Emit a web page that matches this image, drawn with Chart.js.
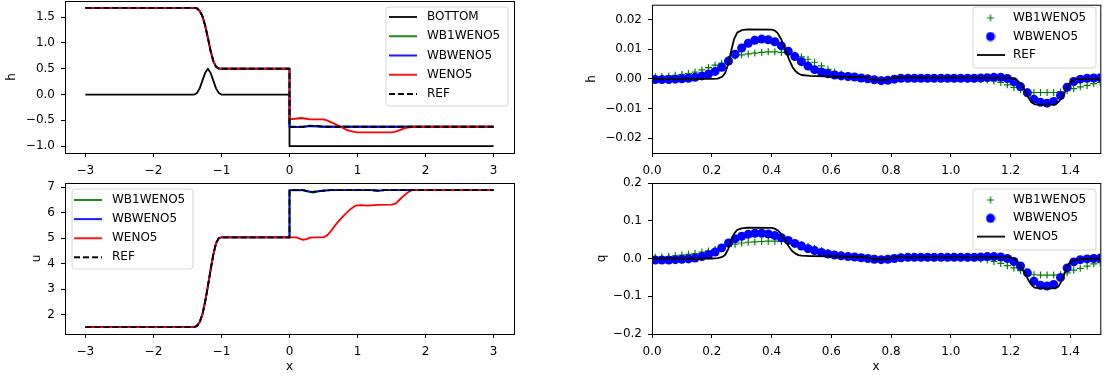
<!DOCTYPE html>
<html><head><meta charset="utf-8">
<script src="https://cdn.jsdelivr.net/npm/chart.js@4.4.0/dist/chart.umd.min.js"></script>
<style>
html,body{margin:0;padding:0;background:#fff;}
body{width:1105px;height:378px;position:relative;overflow:hidden;}
canvas{position:absolute;}
</style></head><body>
<canvas id="c1" width="545" height="182" style="left:0px;top:0px"></canvas>
<canvas id="c2" width="545" height="182" style="left:560px;top:0px"></canvas>
<canvas id="c3" width="545" height="208" style="left:0px;top:170px"></canvas>
<canvas id="c4" width="545" height="208" style="left:560px;top:170px"></canvas>
<script>
// ---------- DATA: left column (x in [-3,3]) ----------
const bottomX = [-3, -1.4, -1.36, -1.32, -1.28, -1.24, -1.2, -1.16, -1.12, -1.08, -1.04, -1.0, 0, 0, 3];
const bottomY = [0, 0, 0.03, 0.12, 0.27, 0.42, 0.5, 0.42, 0.27, 0.12, 0.03, 0, 0, -1, -1];

const hX    = [-3, -1.4, -1.36, -1.32, -1.28, -1.24, -1.2, -1.16, -1.12, -1.08, -1.04, -1.0, 0, 0, 0.2, 0.3, 0.4, 0.5, 3];
const refH  = [1.68, 1.68, 1.67, 1.62, 1.52, 1.34, 1.1, 0.85, 0.65, 0.54, 0.505, 0.5, 0.5, -0.625, -0.625, -0.605, -0.61, -0.625, -0.625];
const wb1H  = [1.68, 1.68, 1.67, 1.62, 1.52, 1.34, 1.1, 0.85, 0.65, 0.54, 0.505, 0.5, 0.5, -0.63, -0.63, -0.61, -0.615, -0.625, -0.625];
const wbH   = [1.68, 1.68, 1.67, 1.62, 1.52, 1.34, 1.1, 0.85, 0.65, 0.54, 0.505, 0.5, 0.5, -0.63, -0.625, -0.612, -0.615, -0.625, -0.625];
const wenoHX = [-3, -1.4, -1.36, -1.32, -1.28, -1.24, -1.2, -1.16, -1.12, -1.08, -1.04, -1.0, 0, 0, 0.08, 0.17, 0.25, 0.3, 0.5, 0.55, 0.6, 0.7, 0.75, 0.85, 0.95, 1.0, 1.5, 1.55, 1.6, 1.7, 1.8, 3];
const wenoH  = [1.68, 1.68, 1.67, 1.62, 1.52, 1.34, 1.1, 0.85, 0.65, 0.54, 0.505, 0.5, 0.5, -0.48, -0.47, -0.455, -0.47, -0.48, -0.48, -0.50, -0.53, -0.59, -0.625, -0.69, -0.725, -0.733, -0.733, -0.725, -0.70, -0.65, -0.625, -0.625];

const uX    = [-3, -1.4, -1.36, -1.32, -1.28, -1.24, -1.2, -1.16, -1.12, -1.08, -1.04, -1.0, 0, 0, 0.2, 0.3, 0.35, 0.45, 0.6, 1.2, 1.3, 1.4, 3];
const refU  = [1.5, 1.5, 1.55, 1.7, 2.0, 2.5, 3.1, 3.75, 4.35, 4.8, 5.0, 5.03, 5.03, 6.89, 6.89, 6.83, 6.82, 6.86, 6.89, 6.89, 6.87, 6.89, 6.89];
const wb1U  = [1.5, 1.5, 1.55, 1.7, 2.0, 2.5, 3.1, 3.75, 4.35, 4.8, 5.0, 5.03, 5.03, 6.89, 6.88, 6.81, 6.79, 6.85, 6.89, 6.89, 6.86, 6.89, 6.89];
const wbU   = [1.5, 1.5, 1.55, 1.7, 2.0, 2.5, 3.1, 3.75, 4.35, 4.8, 5.0, 5.03, 5.03, 6.89, 6.89, 6.83, 6.82, 6.86, 6.89, 6.89, 6.87, 6.89, 6.89];
const wenoUX = [-3, -1.4, -1.36, -1.32, -1.28, -1.24, -1.2, -1.16, -1.12, -1.08, -1.04, -1.0, 0, 0.1, 0.15, 0.2, 0.25, 0.3, 0.5, 0.55, 0.6, 0.7, 0.8, 0.9, 0.97, 1.05, 1.15, 1.3, 1.5, 1.56, 1.65, 1.75, 1.8, 3];
const wenoU  = [1.5, 1.5, 1.55, 1.7, 2.0, 2.5, 3.1, 3.75, 4.35, 4.8, 5.0, 5.03, 5.03, 5.03, 4.98, 4.93, 4.96, 5.02, 5.04, 5.1, 5.25, 5.6, 5.9, 6.15, 6.28, 6.3, 6.28, 6.31, 6.32, 6.36, 6.6, 6.82, 6.89, 6.89];

// ---------- DATA: right column (x in [0,1.5]) ----------
const xs = [0.011,0.033,0.056,0.078,0.100,0.122,0.144,0.167,0.189,0.211,
            0.233,0.256,0.278,0.300,0.322,0.344,0.367,0.389,0.411,0.433,
            0.456,0.478,0.500,0.522,0.544,0.567,0.589,0.611,0.633,0.656,
            0.678,0.700,0.722,0.744,0.767,0.789,0.811,0.833,0.856,0.878,
            0.900,0.922,0.944,0.967,0.989,1.011,1.033,1.056,1.078,1.100,
            1.122,1.144,1.167,1.189,1.211,1.233,1.256,1.278,1.300,1.322,
            1.344,1.367,1.389,1.411,1.433,1.456,1.478,1.500];
const wb1h = [0.0007,0.0008,0.0010,0.0012,0.0015,0.0018,0.0023,0.0030,0.0038,0.0046,
              0.0053,0.0065,0.0076,0.0081,0.0084,0.0087,0.0089,0.0091,0.0091,0.0089,
              0.0085,0.0080,0.0074,0.0066,0.0056,0.0044,0.0032,0.0023,0.0016,0.0010,
              0.0006,0.0003,0.0000,-0.0003,-0.0005,-0.0004,-0.0001,0.0001,0.0001,0.0001,
              0.0001,0.0001,0.0001,0.0001,0.0001,0.0001,0.0001,0.0000,0.0000,-0.0001,
              -0.0003,-0.0007,-0.0012,-0.0020,-0.0029,-0.0037,-0.0043,-0.0046,-0.0046,-0.0046,
              -0.0046,-0.0044,-0.0040,-0.0033,-0.0027,-0.0022,-0.0016,-0.0012];
const wbh  = [-0.0002,-0.0002,-0.0002,-0.0001,0.0000,0.0002,0.0005,0.0010,0.0016,0.0025,
              0.0039,0.0060,0.0083,0.0104,0.0120,0.0130,0.0134,0.0132,0.0125,0.0111,
              0.0093,0.0075,0.0058,0.0043,0.0031,0.0023,0.0017,0.0013,0.0010,0.0008,
              0.0006,0.0003,0.0000,-0.0003,-0.0006,-0.0005,-0.0001,0.0002,0.0002,0.0002,
              0.0002,0.0002,0.0002,0.0002,0.0002,0.0002,0.0002,0.0002,0.0002,0.0003,
              0.0004,0.0005,0.0005,0.0001,-0.0010,-0.0026,-0.0047,-0.0069,-0.0079,-0.0082,
              -0.0076,-0.0056,-0.0028,-0.0009,-0.0001,0.0002,0.0003,0.0004];
const xRef = [0, 0.2, 0.22, 0.235, 0.245, 0.255, 0.265, 0.275, 0.285, 0.3,
              0.32, 0.4, 0.41, 0.42, 0.43, 0.44, 0.45, 0.46, 0.47, 0.48,
              0.49, 0.5, 0.53, 0.6, 0.7, 0.72, 0.73, 0.74, 0.78, 0.79,
              0.8, 0.82, 1.0, 1.2, 1.215, 1.225, 1.237, 1.25, 1.26, 1.27,
              1.28, 1.3, 1.35, 1.36, 1.37, 1.38, 1.39, 1.40, 1.41, 1.43, 1.5];
const refh = [0, 0, 0.0001, 0.0007, 0.0020, 0.0050, 0.0095, 0.0135, 0.0156, 0.0164,
              0.0167, 0.0166, 0.0163, 0.0155, 0.0138, 0.0115, 0.0088, 0.0062, 0.0040, 0.0026,
              0.0018, 0.0013, 0.0010, 0.0008, 0.0006, 0.0004, 0.0000, -0.0003, -0.0004, -0.0002,
              0.0002, 0.0005, 0.0004, 0.0003, 0.0000, -0.0008, -0.0020, -0.0043, -0.0064, -0.0079,
              -0.0086, -0.0087, -0.0086, -0.0078, -0.0065, -0.0048, -0.0029, -0.0013, -0.0004, 0.0000, 0.0001];
const wb1q = [0.003,0.004,0.005,0.007,0.009,0.011,0.013,0.017,0.020,0.024,
              0.027,0.033,0.038,0.041,0.043,0.044,0.045,0.046,0.046,0.045,
              0.043,0.041,0.037,0.032,0.027,0.021,0.016,0.011,0.008,0.005,
              0.003,0.001,-0.001,-0.002,-0.003,-0.002,0.000,0.001,0.001,0.001,
              0.001,0.001,0.001,0.001,0.001,0.001,0.001,0.000,0.000,-0.001,
              -0.004,-0.008,-0.013,-0.019,-0.025,-0.032,-0.039,-0.043,-0.044,-0.044,
              -0.044,-0.043,-0.038,-0.031,-0.026,-0.020,-0.014,-0.011];
const wbq  = [-0.004,-0.004,-0.004,-0.003,-0.002,-0.001,0.001,0.005,0.010,0.017,
              0.028,0.041,0.052,0.059,0.064,0.067,0.067,0.065,0.061,0.055,
              0.048,0.040,0.033,0.026,0.021,0.016,0.012,0.009,0.007,0.005,
              0.004,0.002,0.000,-0.002,-0.003,-0.002,0.000,0.002,0.003,0.003,
              0.003,0.003,0.003,0.003,0.003,0.003,0.003,0.003,0.003,0.004,
              0.005,0.005,0.004,0.000,-0.008,-0.020,-0.038,-0.060,-0.071,-0.073,
              -0.069,-0.050,-0.025,-0.009,-0.003,-0.001,0.000,0.001];
const refq = [0, 0, 0.001, 0.004, 0.010, 0.025, 0.048, 0.066, 0.076, 0.080,
              0.0815, 0.081, 0.079, 0.075, 0.067, 0.055, 0.042, 0.029, 0.019, 0.013,
              0.009, 0.0075, 0.0065, 0.006, 0.004, 0.002, 0.0, -0.002, -0.002, -0.001,
              0.002, 0.003, 0.003, 0.003, -0.002, -0.011, -0.025, -0.042, -0.058, -0.070,
              -0.077, -0.079, -0.079, -0.074, -0.060, -0.040, -0.020, -0.009, -0.005, -0.002, 0.0];

// ---------- TICKS ----------
const leftXTicks = [-3, -2, -1, 0, 1, 2, 3];
const leftXLabels = ['\u22123', '\u22122', '\u22121', '0', '1', '2', '3'];
const hYTicks = [-1.0, -0.5, 0.0, 0.5, 1.0, 1.5];
const hYLabels = ['\u22121.0', '\u22120.5', '0.0', '0.5', '1.0', '1.5'];
const uYTicks = [2, 3, 4, 5, 6, 7];
const uYLabels = ['2', '3', '4', '5', '6', '7'];
const rightXTicks = [0, 0.2, 0.4, 0.6, 0.8, 1.0, 1.2, 1.4];
const rightXLabels = ['0.0', '0.2', '0.4', '0.6', '0.8', '1.0', '1.2', '1.4'];
const dhYTicks = [-0.02, -0.01, 0, 0.01, 0.02];
const dhYLabels = ['\u22120.02', '\u22120.01', '0.00', '0.01', '0.02'];
const qYTicks = [-0.2, -0.1, 0, 0.1, 0.2];
const qYLabels = ['\u22120.2', '\u22120.1', '0.0', '0.1', '0.2'];

// ---------- helpers ----------
Chart.defaults.font.family = "'DejaVu Sans', sans-serif";
Chart.defaults.font.size = 12;
Chart.defaults.color = '#000';
const LW = 1.8;
const DASH = [6, 3];
const pts = (x, y) => x.map((v, i) => ({x: v, y: y[i]}));

function lineIcon(color, dash) {
  const c = document.createElement('canvas'); c.width = 28; c.height = 6;
  const g = c.getContext('2d'); g.strokeStyle = color; g.lineWidth = LW;
  if (dash) g.setLineDash(dash);
  g.beginPath(); g.moveTo(0, 3); g.lineTo(28, 3); g.stroke(); return c;
}
function crossIcon(color) {
  const c = document.createElement('canvas'); c.width = 10; c.height = 10;
  const g = c.getContext('2d'); g.strokeStyle = color; g.lineWidth = 1.2;
  g.beginPath(); g.moveTo(1.5, 5); g.lineTo(8.5, 5); g.moveTo(5, 1.5); g.lineTo(5, 8.5); g.stroke(); return c;
}
function dotIcon(color) {
  const c = document.createElement('canvas'); c.width = 10; c.height = 10;
  const g = c.getContext('2d'); g.fillStyle = color;
  g.beginPath(); g.arc(5, 5, 4.5, 0, Math.PI * 2); g.fill(); return c;
}

const mplPlugin = {
  id: 'mpl',
  beforeDraw(chart, args, o) {
    const ctx = chart.ctx;
    if (o.frame) {
      const [fx, fy, fw, fh] = o.frame, r = 3;
      ctx.save();
      ctx.beginPath();
      ctx.moveTo(fx + r, fy); ctx.lineTo(fx + fw - r, fy); ctx.arcTo(fx + fw, fy, fx + fw, fy + r, r);
      ctx.lineTo(fx + fw, fy + fh - r); ctx.arcTo(fx + fw, fy + fh, fx + fw - r, fy + fh, r);
      ctx.lineTo(fx + r, fy + fh); ctx.arcTo(fx, fy + fh, fx, fy + fh - r, r);
      ctx.lineTo(fx, fy + r); ctx.arcTo(fx, fy, fx + r, fy, r); ctx.closePath();
      ctx.fillStyle = 'rgba(255,255,255,0.8)'; ctx.fill();
      ctx.strokeStyle = '#d6d6d6'; ctx.lineWidth = 1; ctx.stroke();
      ctx.restore();
    }
    const lg = chart.legend;
    if (lg && o.cursor) {
      const pad = lg.options.labels.padding;
      lg.left = o.cursor[0] - pad; lg.top = o.cursor[1] - pad;
      lg.width = o.frame[2] + 40; lg.height = o.frame[3] + 40;
      lg.right = lg.left + lg.width; lg.bottom = lg.top + lg.height;
    }
  },
  afterDraw(chart) {
    const a = chart.chartArea, ctx = chart.ctx;
    ctx.save(); ctx.strokeStyle = '#000'; ctx.lineWidth = 1;
    ctx.strokeRect(a.left + 0.5, a.top + 0.5, a.right - a.left, a.bottom - a.top);
    ctx.restore();
  }
};

function makeChart(id, c) {
  const canvas = document.getElementById(id);
  const W = canvas.width, H = canvas.height;
  return new Chart(canvas, {
    type: 'line',
    data: { datasets: c.datasets },
    plugins: [mplPlugin],
    options: {
      responsive: false, animation: false, devicePixelRatio: 1, events: [],
      layout: { padding: { left: 0, top: c.area.top, right: W - c.area.right, bottom: 0 } },
      elements: { line: { tension: 0, borderWidth: LW, borderJoinStyle: 'round', fill: false },
                  point: { radius: 0, hoverRadius: 0 } },
      scales: {
        x: {
          type: 'linear', min: c.xMin, max: c.xMax,
          afterBuildTicks: s => { s.ticks = c.xTicks.map(v => ({value: v})); },
          afterFit: s => { s.height = H - c.area.bottom; s.paddingLeft = 0; s.paddingRight = 0; },
          ticks: { autoSkip: false, maxRotation: 0, minRotation: 0, padding: 7, color: '#000',
                   callback: (v, i) => c.xLabels[i] },
          grid: { display: true, drawOnChartArea: false, drawTicks: true, tickLength: 4, color: '#000', tickColor: '#000', tickWidth: 1 },
          border: { display: false },
          title: c.xTitle ? { display: true, text: c.xTitle, color: '#000', padding: { top: 0, bottom: 4 } } : { display: false }
        },
        y: {
          type: 'linear', min: c.yMin, max: c.yMax,
          afterBuildTicks: s => { s.ticks = c.yTicks.map(v => ({value: v})); },
          afterFit: s => { s.width = c.area.left; s.paddingTop = 0; s.paddingBottom = 0; },
          ticks: { autoSkip: false, padding: 6, color: '#000', callback: (v, i) => c.yLabels[i] },
          grid: { display: true, drawOnChartArea: false, drawTicks: true, tickLength: 4, color: '#000', tickColor: '#000', tickWidth: 1 },
          border: { display: false },
          title: { display: true, text: c.yTitle, color: '#000', padding: { top: c.yTitlePad, bottom: 0 } }
        }
      },
      plugins: {
        tooltip: { enabled: false },
        mpl: { frame: c.legend.frame, cursor: c.legend.cursor },
        legend: {
          display: true, position: 'chartArea', align: 'start',
          labels: {
            usePointStyle: true, pointStyleWidth: c.legend.box, padding: c.legend.pad,
            color: '#000', font: { size: 12 },
            generateLabels: () => c.legend.items.map((it, i) => ({
              text: it.text, pointStyle: it.icon, fontColor: '#000', fillStyle: 'rgba(0,0,0,0)',
              strokeStyle: 'rgba(0,0,0,0)', lineWidth: 0, hidden: false, datasetIndex: i, lineDash: []
            }))
          }
        }
      }
    }
  });
}

// ---------- top-left: h ----------
makeChart('c1', {
  area: { left: 65, top: 1, right: 514, bottom: 153 },
  xMin: -3.3, xMax: 3.3, xTicks: leftXTicks, xLabels: leftXLabels,
  yMin: -1.134, yMax: 1.814, yTicks: hYTicks, yLabels: hYLabels,
  yTitle: 'h', yTitlePad: 5, xTitle: null,
  datasets: [
    { label: 'BOTTOM', data: pts(bottomX, bottomY), borderColor: '#000', order: 4 },
    { label: 'WB1WENO5', data: pts(hX, wb1H), borderColor: '#008000', order: 3 },
    { label: 'WBWENO5', data: pts(hX, wbH), borderColor: '#0000ff', order: 2 },
    { label: 'WENO5', data: pts(wenoHX, wenoH), borderColor: '#ff0000', order: 1 },
    { label: 'REF', data: pts(hX, refH), borderColor: '#000', borderDash: DASH, order: 0 }
  ],
  legend: { frame: [386, 7, 122, 99], cursor: [385, 11], pad: 7.25, box: 36,
    items: [ { text: 'BOTTOM', icon: lineIcon('#000') }, { text: 'WB1WENO5', icon: lineIcon('#008000') },
             { text: 'WBWENO5', icon: lineIcon('#0000ff') }, { text: 'WENO5', icon: lineIcon('#ff0000') },
             { text: 'REF', icon: lineIcon('#000', DASH) } ] }
});

// ---------- bottom-left: u ----------
makeChart('c3', {
  area: { left: 65, top: 13, right: 514, bottom: 164 },
  xMin: -3.3, xMax: 3.3, xTicks: leftXTicks, xLabels: leftXLabels,
  yMin: 1.23, yMax: 7.17, yTicks: uYTicks, yLabels: uYLabels,
  yTitle: 'u', yTitlePad: 30, xTitle: 'x',
  datasets: [
    { label: 'WB1WENO5', data: pts(uX, wb1U), borderColor: '#008000', order: 3 },
    { label: 'WBWENO5', data: pts(uX, wbU), borderColor: '#0000ff', order: 2 },
    { label: 'WENO5', data: pts(wenoUX, wenoU), borderColor: '#ff0000', order: 1 },
    { label: 'REF', data: pts(uX, refU), borderColor: '#000', borderDash: DASH, order: 0 }
  ],
  legend: { frame: [72, 19, 121, 80], cursor: [70, 24], pad: 7.1, box: 36,
    items: [ { text: 'WB1WENO5', icon: lineIcon('#008000') }, { text: 'WBWENO5', icon: lineIcon('#0000ff') },
             { text: 'WENO5', icon: lineIcon('#ff0000') }, { text: 'REF', icon: lineIcon('#000', DASH) } ] }
});

// ---------- top-right: h perturbation ----------
makeChart('c2', {
  area: { left: 92, top: 1, right: 542, bottom: 153 },
  xMin: 0, xMax: 1.5, xTicks: rightXTicks, xLabels: rightXLabels,
  yMin: -0.025, yMax: 0.025, yTicks: dhYTicks, yLabels: dhYLabels,
  yTitle: 'h', yTitlePad: 25, xTitle: null,
  datasets: [
    { label: 'WB1WENO5', data: pts(xs, wb1h), showLine: false, pointStyle: 'cross', pointRadius: 3.5,
      pointBorderColor: '#008000', pointBackgroundColor: '#008000', pointBorderWidth: 1.2, order: 2 },
    { label: 'WBWENO5', data: pts(xs, wbh), showLine: false, pointStyle: 'circle', pointRadius: 4.5,
      pointBorderColor: '#0000ff', pointBackgroundColor: '#0000ff', pointBorderWidth: 0, order: 1 },
    { label: 'REF', data: pts(xRef, refh), borderColor: '#000', order: 0 }
  ],
  legend: { frame: [413, 7, 123, 61], cursor: [414, 12], pad: 6.5, box: 33,
    items: [ { text: 'WB1WENO5', icon: crossIcon('#008000') }, { text: 'WBWENO5', icon: dotIcon('#0000ff') },
             { text: 'REF', icon: lineIcon('#000') } ] }
});

// ---------- bottom-right: q perturbation ----------
makeChart('c4', {
  area: { left: 92, top: 13, right: 542, bottom: 164 },
  xMin: 0, xMax: 1.5, xTicks: rightXTicks, xLabels: rightXLabels,
  yMin: -0.2, yMax: 0.2, yTicks: qYTicks, yLabels: qYLabels,
  yTitle: 'q', yTitlePad: 35, xTitle: 'x',
  datasets: [
    { label: 'WB1WENO5', data: pts(xs, wb1q), showLine: false, pointStyle: 'cross', pointRadius: 3.5,
      pointBorderColor: '#008000', pointBackgroundColor: '#008000', pointBorderWidth: 1.2, order: 2 },
    { label: 'WBWENO5', data: pts(xs, wbq), showLine: false, pointStyle: 'circle', pointRadius: 4.5,
      pointBorderColor: '#0000ff', pointBackgroundColor: '#0000ff', pointBorderWidth: 0, order: 1 },
    { label: 'WENO5', data: pts(xRef, refq), borderColor: '#000', order: 0 }
  ],
  legend: { frame: [413, 19, 123, 61], cursor: [414, 24], pad: 6.3, box: 33,
    items: [ { text: 'WB1WENO5', icon: crossIcon('#008000') }, { text: 'WBWENO5', icon: dotIcon('#0000ff') },
             { text: 'WENO5', icon: lineIcon('#000') } ] }
});
</script>
</body></html>
